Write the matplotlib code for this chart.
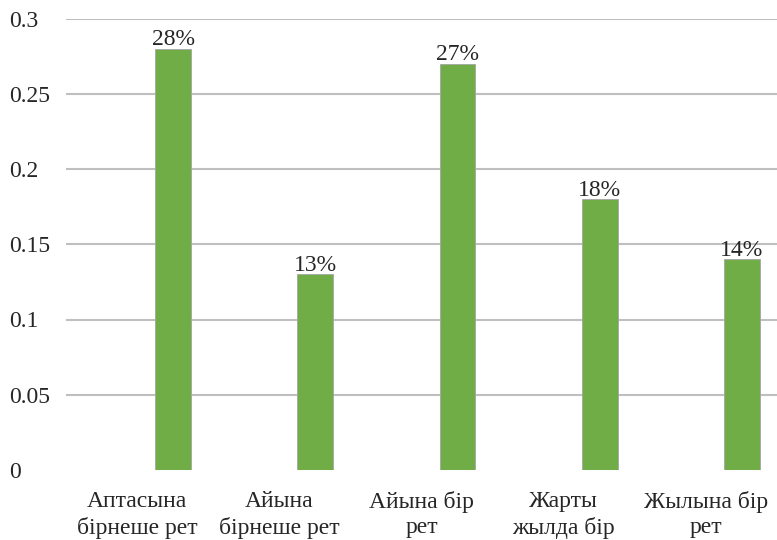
import matplotlib
matplotlib.use('Agg')
from matplotlib import pyplot as plt
import numpy as np

categories = ['Аптасына\nбірнеше рет', 'Айына\nбірнеше рет', 'Айына бір\nрет',
              'Жарты\nжылда бір', 'Жылына бір\nрет']
values = [0.28, 0.13, 0.27, 0.18, 0.14]
value_labels = ['28%', '13%', '27%', '18%', '14%']
y_ticks = [0, 0.05, 0.1, 0.15, 0.2, 0.25, 0.3]
y_tick_labels = ['0', '0.05', '0.1', '0.15', '0.2', '0.25', '0.3']


def main():
    plt.rcParams['font.family'] = ['Liberation Serif', 'DejaVu Serif']
    fig = plt.figure(figsize=(7.77, 5.4), dpi=100)
    ax = fig.add_axes([0.085, 0.13, 0.915, 0.835])

    x = np.arange(len(categories))
    width = 0.253
    bars = ax.bar(x + width, values, width=width, color='#70ad47',
                  edgecolor='#a5a5a5', linewidth=0.6, zorder=3)
    for bar, lab in zip(bars, value_labels):
        ax.text(bar.get_x() + bar.get_width() / 2, bar.get_height() - 0.001,
                lab, ha='center', va='bottom', fontsize=17, color='#262626')

    ax.set_xlim(-0.5, len(categories) - 0.5)
    ax.set_ylim(0, 0.3)
    ax.set_yticks(y_ticks)
    ax.set_yticklabels(y_tick_labels, fontsize=17, color='#262626')
    for lab in ax.get_yticklabels():
        lab.set_horizontalalignment('left')
    ax.tick_params(axis='y', length=0, pad=41)
    ax.set_xticks(x)
    ax.set_xticklabels(categories, fontsize=17, color='#262626',
                       linespacing=1.3)
    ax.tick_params(axis='x', length=0, pad=15)

    # gridlines, but not at zero (no baseline in the original)
    for y in y_ticks[1:]:
        ax.axhline(y, color='#bfbfbf', linewidth=1.5, zorder=0)
    for s in ax.spines.values():
        s.set_visible(False)

    fig.savefig('out.png', dpi=100)


if __name__ == '__main__':
    main()
